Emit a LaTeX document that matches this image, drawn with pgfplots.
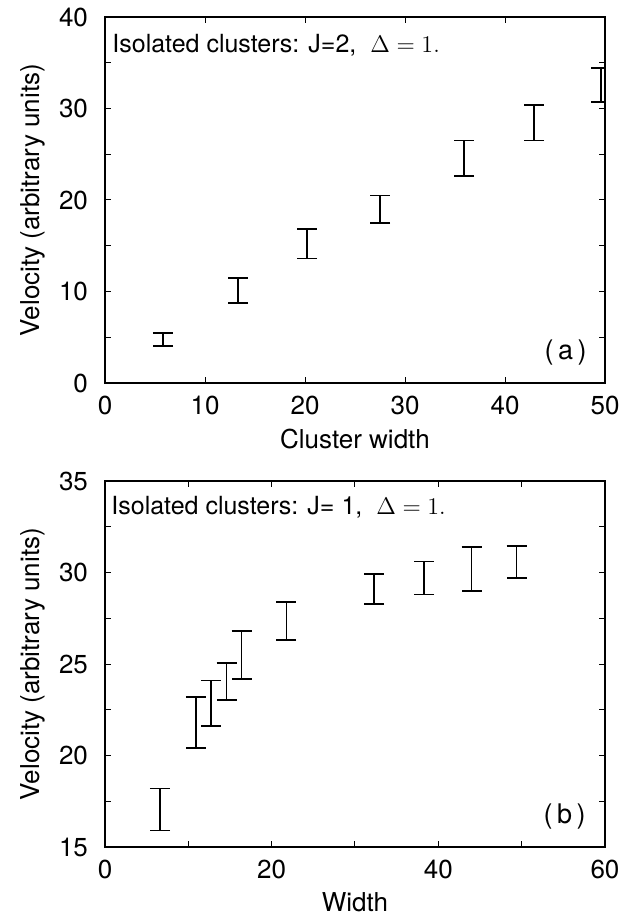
\documentclass[border=0pt]{standalone}
\usepackage{fontspec}
\setmainfont{TeX Gyre Heros}
\usepackage{pgfplots}
\pgfplotsset{compat=1.18}

\pgfplotsset{
  panel/.style={
    scale only axis, width=250pt, height=183pt,
    tick align=inside, major tick length=3pt, minor tick length=3pt,
    axis line style={line width=0.6pt},
    every tick/.style={black, line width=0.5pt},
    tick label style={font=\fontsize{13}{15}\selectfont},
    label style={font=\fontsize{13}{15}\selectfont},
    /pgf/number format/assume math mode=true,
    yticklabel style={xshift=-5pt},
    xticklabel style={yshift=-3pt},
    ylabel={Velocity (arbitrary units)},
  },
  bars/.style={draw=none, mark=none,
    error bars/.cd, y dir=both, y explicit,
    error bar style={draw=black, line width=0.7pt},
    error mark options={draw=black, rotate=90, mark size=5pt, line width=0.9pt}},
}

\begin{document}
\begin{tikzpicture}
\useasboundingbox (-52.5pt,-36.5pt) rectangle (262pt,423.5pt);

% (a) J=2
\begin{axis}[panel, at={(0pt,232pt)},
    xmin=0, xmax=50, ymin=0, ymax=40,
    xtick={0,10,...,50}, ytick={0,10,...,40},
    minor ytick={5,15,25,35},
    xlabel={Cluster width}]
\addplot[bars] coordinates {
  (5.8,4.75)   +- (0,0.75)
  (13.3,10.1)  +- (0,1.4)
  (20.2,15.2)  +- (0,1.6)
  (27.5,19.0)  +- (0,1.5)
  (35.9,24.55) +- (0,1.95)
  (42.9,28.45) +- (0,1.95)
  (49.6,32.55) +- (0,1.85)
};
\node[anchor=base west, inner sep=0, font=\fontsize{12.5}{14}\selectfont]
  at (rel axis cs:0,1) [xshift=3.5pt, yshift=-18pt]
  {Isolated clusters: J=2,\ \ $\Delta = 1.$};
\node[anchor=base east, inner sep=0, font=\fontsize{13.5}{15}\selectfont]
  at (rel axis cs:1,0) [xshift=-9pt, yshift=11.5pt] {(\,a\,)};
\end{axis}

% (b) J=1
\begin{axis}[panel, at={(0pt,0pt)},
    xmin=0, xmax=60, ymin=15, ymax=35,
    xtick={0,20,40,60}, minor xtick={10,30,50},
    ytick={15,20,...,35}, minor ytick={17.5,22.5,27.5,32.5},
    xlabel={Width}]
\addplot[bars] coordinates {
  (6.6,17.05)  +- (0,1.15)
  (10.9,21.8)  +- (0,1.4)
  (12.7,22.85) +- (0,1.25)
  (14.6,24.05) +- (0,1.0)
  (16.4,25.5)  +- (0,1.3)
  (21.75,27.35) +- (0,1.05)
  (32.3,29.1)  +- (0,0.8)
  (38.3,29.7)  +- (0,0.9)
  (44.0,30.2)  +- (0,1.2)
  (49.4,30.575) +- (0,0.875)
};
\node[anchor=base west, inner sep=0, font=\fontsize{12.5}{14}\selectfont]
  at (rel axis cs:0,1) [xshift=3pt, yshift=-17pt]
  {Isolated clusters: J= 1,\ \ $\Delta = 1.$};
\node[anchor=base east, inner sep=0, font=\fontsize{13.5}{15}\selectfont]
  at (rel axis cs:1,0) [xshift=-9.5pt, yshift=12pt] {(\,b\,)};
\end{axis}
\end{tikzpicture}
\end{document}
